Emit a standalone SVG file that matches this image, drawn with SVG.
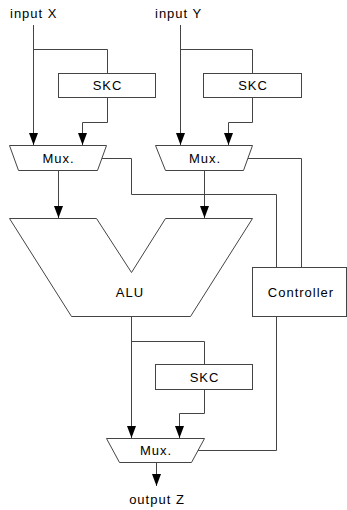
<svg xmlns="http://www.w3.org/2000/svg" width="347" height="510" viewBox="0 0 347 510">
<style>
  .ln { fill: none; stroke: #444; stroke-width: 1; }
  .box { fill: #fff; stroke: #444; stroke-width: 1; }
  .t { font-family: "Liberation Sans", Arial, sans-serif; font-size: 13px; fill: #000; letter-spacing: 1px; }
  .c { text-anchor: middle; }
</style>
<defs>
  <marker id="ah" markerUnits="userSpaceOnUse" markerWidth="12" markerHeight="9" refX="12" refY="4.5" orient="auto">
    <path d="M0,0 L12,4.5 L0,9 z" fill="#000"/>
  </marker>
</defs>
<rect width="347" height="510" fill="#fff"/>
<g id="connectors">
  <polyline class="ln" points="33.5,25 33.5,145" marker-end="url(#ah)"/>
  <polyline class="ln" points="33.5,49.5 107.5,49.5 107.5,73.5"/>
  <polyline class="ln" points="107.5,97.5 107.5,122.5 82.5,122.5 82.5,145" marker-end="url(#ah)"/>
  <polyline class="ln" points="58.5,170.5 58.5,218" marker-end="url(#ah)"/>
  <polyline class="ln" points="102,158.5 131.5,158.5 131.5,194.5 276.5,194.5 276.5,267.5"/>
  <polyline class="ln" points="180.5,25 180.5,145" marker-end="url(#ah)"/>
  <polyline class="ln" points="180.5,49.5 252.5,49.5 252.5,73.5"/>
  <polyline class="ln" points="252.5,97.5 252.5,122.5 228.5,122.5 228.5,145" marker-end="url(#ah)"/>
  <polyline class="ln" points="204.5,170.5 204.5,218" marker-end="url(#ah)"/>
  <polyline class="ln" points="248,158.5 301.5,158.5 301.5,267.5"/>
  <polyline class="ln" points="131.5,316.5 131.5,438" marker-end="url(#ah)"/>
  <polyline class="ln" points="131.5,341.5 204.5,341.5 204.5,364.5"/>
  <polyline class="ln" points="204.5,389.5 204.5,413.5 179.5,413.5 179.5,438" marker-end="url(#ah)"/>
  <polyline class="ln" points="276.5,316.5 276.5,450.5 198,450.5"/>
  <polyline class="ln" points="156.5,462.5 156.5,486" marker-end="url(#ah)"/>
</g>
<g id="inputX"><text class="t" x="10" y="18">input X</text></g>
<g id="inputY"><text class="t" x="155" y="18">input Y</text></g>
<g id="skc1">
  <rect class="box" x="58.5" y="73.5" width="97" height="24"/>
  <text class="t c" x="107.5" y="90">SKC</text>
</g>
<g id="skc2">
  <rect class="box" x="203.5" y="73.5" width="98" height="24"/>
  <text class="t c" x="253" y="90">SKC</text>
</g>
<g id="mux1">
  <polygon class="box" points="9.5,145.5 106.5,145.5 97.5,170.5 18.5,170.5"/>
  <text class="t c" x="58.5" y="163">Mux.</text>
</g>
<g id="mux2">
  <polygon class="box" points="155.5,145.5 252.5,145.5 243.5,170.5 165.5,170.5"/>
  <text class="t c" x="205" y="163">Mux.</text>
</g>
<g id="alu">
  <polygon class="box" points="9.5,218.5 96.5,218.5 131.5,272.5 165.5,218.5 252.5,218.5 190.5,316.5 71.5,316.5"/>
  <text class="t c" x="130" y="297">ALU</text>
</g>
<g id="controller">
  <rect class="box" x="252.5" y="267.5" width="94" height="49"/>
  <text class="t c" x="301" y="297">Controller</text>
</g>
<g id="skc3">
  <rect class="box" x="155.5" y="364.5" width="97" height="25"/>
  <text class="t c" x="204.5" y="382">SKC</text>
</g>
<g id="mux3">
  <polygon class="box" points="106.5,438.5 204.5,438.5 191.5,462.5 119.5,462.5"/>
  <text class="t c" x="156" y="455">Mux.</text>
</g>
<g id="outputZ"><text class="t c" x="157" y="504">output Z</text></g>
</svg>
